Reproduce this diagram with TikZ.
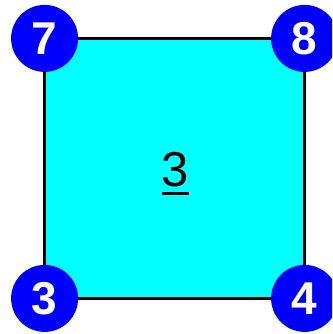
\documentclass[tikz,border=0pt]{standalone}
\usepackage{fontspec}
\setmainfont{Liberation Sans}
\definecolor{facecyan}{RGB}{0,255,255}
\definecolor{cornerblue}{RGB}{0,0,255}
\begin{document}
\begin{tikzpicture}[x=1pt,y=-1pt,
  corner/.style={circle,fill=cornerblue,minimum size=67pt,inner sep=0pt,text=white,font=\fontsize{46}{46}\selectfont\bfseries},
  face/.style={draw=black,line width=2.4pt,fill=facecyan,minimum width=260pt,minimum height=260pt,inner sep=0pt,outer sep=0pt},
  facelabel/.style={inner sep=0pt,font=\fontsize{49}{49}\selectfont}]
\useasboundingbox (0,0) rectangle (332,334);
\clip (0,0) rectangle (332,334);
\node[face] (sq) at (174.6,168.4) {};
\node[facelabel] (lbl) at (175.5,170) {3};
\draw[line width=2.5pt] ([yshift=-6.5pt]lbl.base west) -- ([yshift=-6.5pt]lbl.base east);
\node[corner] (c7) at (sq.north west) {7};
\node[corner] (c8) at (sq.north east) {8};
\node[corner] (c3) at (sq.south west) {3};
\node[corner] (c4) at (sq.south east) {4};
\end{tikzpicture}
\end{document}
